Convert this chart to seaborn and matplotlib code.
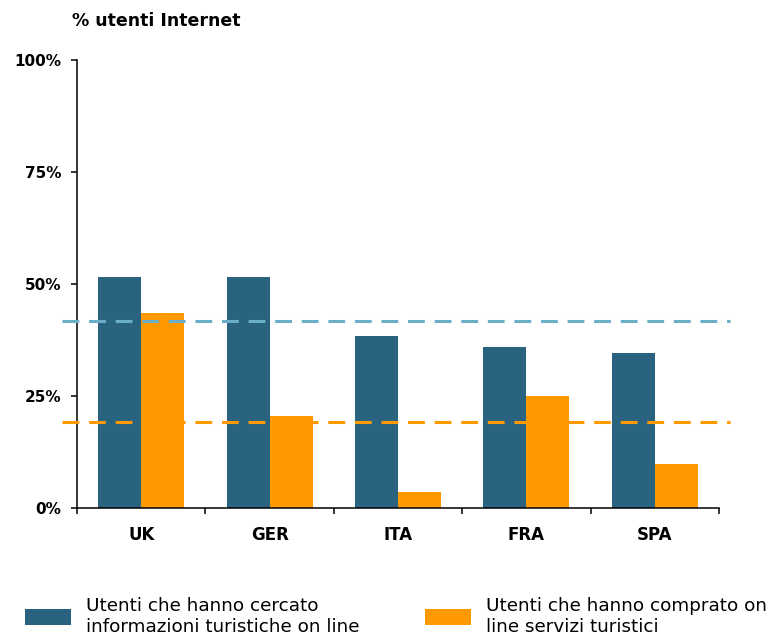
import matplotlib
matplotlib.use("Agg")
import matplotlib.pyplot as plt
import seaborn as sns
import pandas as pd
import numpy as np

# Paesi e quote di utenti Internet (%)
paesi = ["UK", "GER", "ITA", "FRA", "SPA"]
cercato = [51.5, 51.5, 38.5, 36.0, 34.5]
comprato = [43.5, 20.5, 3.5, 25.0, 9.8]
media_cercato = 41.7
media_comprato = 19.2
serie = ["Utenti che hanno cercato\ninformazioni turistiche on line",
         "Utenti che hanno comprato on\nline servizi turistici"]
yticks = [0, 25, 50, 75, 100]
ytick_labels = ["0%", "25%", "50%", "75%", "100%"]

col_blu = "#29637F"
col_arancio = "#FF9900"
col_blu_chiaro = "#6AAEC8"

df = pd.DataFrame({
    "paese": paesi * 2,
    "valore": cercato + comprato,
    "serie": [serie[0]] * len(paesi) + [serie[1]] * len(paesi),
})

sns.set_theme(style="white")
plt.rcParams["font.family"] = ["DejaVu Sans"]
plt.rcParams["text.color"] = "black"
plt.rcParams["xtick.color"] = "black"
plt.rcParams["ytick.color"] = "black"

fig = plt.figure(figsize=(7.81, 6.40), dpi=100)
ax = fig.add_axes([77 / 781, 1 - 508 / 640, 642 / 781, 448 / 640])

sns.barplot(data=df, x="paese", y="valore", hue="serie", order=paesi,
            hue_order=serie, palette=[col_blu, col_arancio], saturation=1,
            width=0.67, gap=0, edgecolor="none", linewidth=0, ax=ax)

handles, labels = ax.get_legend_handles_labels()
ax.get_legend().remove()

# Linee medie tratteggiate
for val, col in [(media_cercato, col_blu_chiaro), (media_comprato, col_arancio)]:
    ax.axhline(val, xmin=-0.023, xmax=1.017, color=col, lw=2.2,
               dashes=(5.5, 3.2), clip_on=False, zorder=5)

ax.set_ylim(0, 100)
ax.set_xlim(-0.5, len(paesi) - 0.5)
ax.set_yticks(yticks)
ax.set_yticklabels(ytick_labels, fontsize=11, fontweight="bold")
ax.set_xticks(range(len(paesi)))
ax.set_xticklabels(paesi, fontsize=12, fontweight="bold")
ax.set_xticks(np.arange(-0.5, len(paesi), 1.0), minor=True)
ax.tick_params(axis="x", which="major", length=0, pad=13)
ax.tick_params(axis="x", which="minor", length=4, width=1.1, direction="out",
               color="black", bottom=True)
ax.tick_params(axis="y", length=4.5, width=1.1, direction="out", color="black",
               left=True, pad=7)
ax.set_xlabel("")
ax.set_ylabel("")

sns.despine(ax=ax, top=True, right=True)
for s in ["left", "bottom"]:
    ax.spines[s].set_color("black")
    ax.spines[s].set_linewidth(1.1)

fig.text(72 / 781, 1 - 21 / 640, "% utenti Internet", fontsize=12.5,
         fontweight="bold", va="center", ha="left")

# Legenda su due colonne separate
pos = [(25 / 781, 1 - 597 / 640), (425 / 781, 1 - 597 / 640)]
for h, l, p in zip(handles, labels, pos):
    leg = fig.legend([h], [l], loc="upper left", bbox_to_anchor=p,
                     frameon=False, fontsize=13.2, borderpad=0, borderaxespad=0,
                     handlelength=2.5, handleheight=1.0, handletextpad=0.85,
                     labelspacing=0)

fig.savefig("out.png", dpi=100, facecolor="white")
